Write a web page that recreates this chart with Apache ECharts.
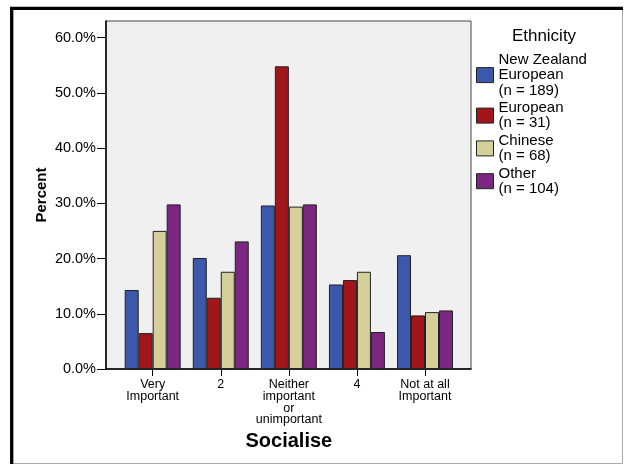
<!DOCTYPE html>
<html>
<head>
<meta charset="utf-8">
<script src="https://cdn.jsdelivr.net/npm/echarts@6/dist/echarts.min.js"></script>
<style>
html,body{margin:0;padding:0;background:#fff;}
#chart{width:628px;height:466px;}
</style>
</head>
<body>
<div id="chart"></div>
<script>
const categories = ['Very\nImportant', '2', 'Neither\nimportant\nor\nunimportant', '4', 'Not at all\nImportant'];
const seriesNames = ['New Zealand\nEuropean\n(n = 189)', 'European\n(n = 31)', 'Chinese\n(n = 68)', 'Other\n(n = 104)'];
const nzEuropean = [14.3, 20.1, 29.6, 15.3, 20.6];
const european = [6.5, 12.9, 54.8, 16.1, 9.7];
const chinese = [25.0, 17.6, 29.4, 17.6, 10.3];
const other = [29.8, 23.1, 29.8, 6.7, 10.6];
const yTicks = [0, 10, 20, 30, 40, 50, 60];
const colors = ['#3D57AB', '#A1161A', '#D5D09B', '#7B2680'];

const FONT = 'Liberation Sans, Arial, sans-serif';
const seriesData = [nzEuropean, european, chinese, other];

const chart = echarts.init(document.getElementById('chart'), null, {renderer: 'canvas'});
const option = {
  animation: false,
  backgroundColor: '#fff',
  textStyle: {fontFamily: FONT},
  grid: [
    {left: 118.65, top: 21, width: 340.4, height: 348, containLabel: false},
    {left: 106, top: 21, width: 365, height: 348, show: true, backgroundColor: '#f0f0f0', borderColor: '#444', borderWidth: 1, z: 0}
  ],
  xAxis: [
    {
      type: 'category', gridIndex: 0, data: categories,
      axisLine: {show: false},
      axisTick: {show: true, alignWithLabel: true, length: 7, lineStyle: {color: '#000', width: 1}},
      axisLabel: {color: '#000', fontSize: 12.5, lineHeight: 11.7, margin: 10, fontFamily: FONT, interval: 0},
      name: 'Socialise', nameLocation: 'middle', nameGap: 62, nameMoveOverlap: false,
      nameTextStyle: {color: '#000', fontSize: 20, fontWeight: 'bold', lineHeight: 20, fontFamily: FONT},
      splitLine: {show: false}
    },
    {
      type: 'value', gridIndex: 1, min: 0, max: 1,
      axisLine: {show: true, onZero: false, lineStyle: {color: '#000', width: 1.5}},
      axisTick: {show: false}, axisLabel: {show: false}, splitLine: {show: false}
    }
  ],
  yAxis: [
    {type: 'value', gridIndex: 0, min: 0, max: 63, show: false, splitLine: {show: false}},
    {
      type: 'value', gridIndex: 1, min: 0, max: 63, interval: 10,
      axisLine: {show: true, lineStyle: {color: '#000', width: 1.5}},
      axisTick: {show: true, length: 9, customValues: yTicks, lineStyle: {color: '#000', width: 1}},
      axisLabel: {color: '#000', fontSize: 14.5, margin: 10, fontFamily: FONT, customValues: yTicks,
        formatter: v => v.toFixed(1) + '%'},
      splitLine: {show: false},
      name: 'Percent', nameLocation: 'middle', nameGap: 57, nameRotate: 90, nameMoveOverlap: false,
      nameTextStyle: {color: '#000', fontSize: 15, fontWeight: 'bold', fontFamily: FONT}
    }
  ],
  legend: {
    orient: 'vertical', left: 476, top: 52, padding: 0,
    itemWidth: 17, itemHeight: 15, itemGap: 2,
    icon: 'rect',
    textStyle: {color: '#000', fontSize: 15, lineHeight: 15.4, fontFamily: FONT},
    itemStyle: {borderColor: '#222', borderWidth: 1},
    data: seriesNames
  },
  series: seriesNames.map((name, i) => ({
    name: name, type: 'bar', xAxisIndex: 0, yAxisIndex: 0,
    data: seriesData[i],
    barGap: '0%', barCategoryGap: '17.8%',
    itemStyle: {color: colors[i], borderColor: '#222', borderWidth: 1},
    z: 3
  })),
  graphic: [
    {type: 'text', x: 544, y: 36, style: {text: 'Ethnicity', fill: '#000', font: '17px ' + FONT, textAlign: 'center', textVerticalAlign: 'middle'}},
    {type: 'rect', shape: {x: 11.5, y: 8.5, width: 611, height: 455}, style: {fill: 'none', stroke: '#aaa', lineWidth: 1}},
    {type: 'line', shape: {x1: 10, y1: 8.4, x2: 623, y2: 8.4}, style: {stroke: '#000', lineWidth: 3.3}},
    {type: 'line', shape: {x1: 11.7, y1: 7, x2: 11.7, y2: 464}, style: {stroke: '#000', lineWidth: 3.3}}
  ]
};
chart.setOption(option);
</script>
</body>
</html>
